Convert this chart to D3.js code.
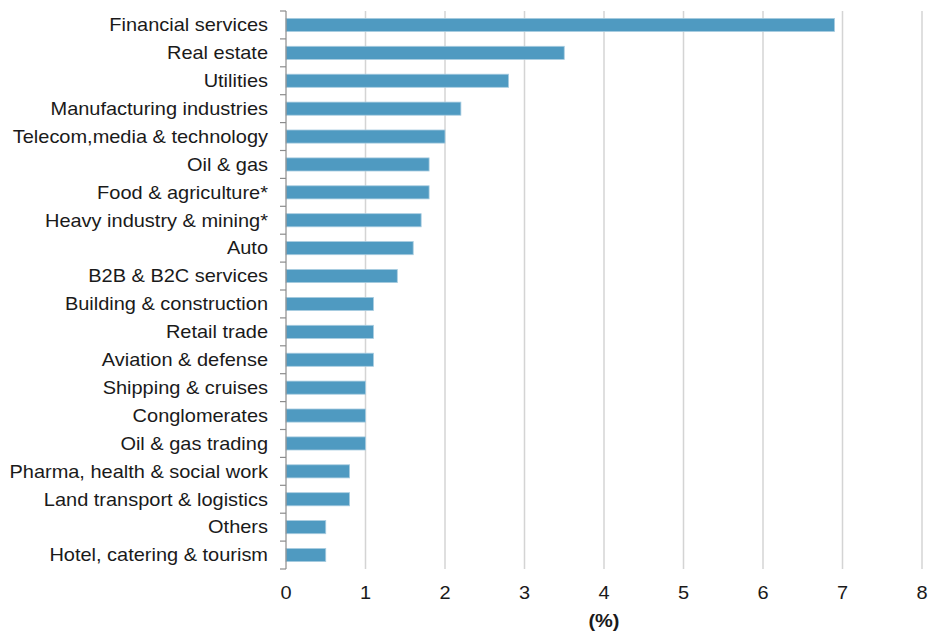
<!DOCTYPE html>
<html><head><meta charset="utf-8">
<script src="https://cdn.jsdelivr.net/npm/d3@7"></script>
<style>body{margin:0;background:#fff;font-family:"Liberation Sans",Arial,sans-serif;}</style>
</head><body><svg id="c" width="928" height="632"></svg>
<script>
const categories = ["Financial services","Real estate","Utilities","Manufacturing industries","Telecom,media & technology","Oil & gas","Food & agriculture*","Heavy industry & mining*","Auto","B2B & B2C services","Building & construction","Retail trade","Aviation & defense","Shipping & cruises","Conglomerates","Oil & gas trading","Pharma, health & social work","Land transport & logistics","Others","Hotel, catering & tourism"];
const values = [6.9,3.5,2.8,2.2,2.0,1.8,1.8,1.7,1.6,1.4,1.1,1.1,1.1,1.0,1.0,1.0,0.8,0.8,0.5,0.5];
const xTicks = [0,1,2,3,4,5,6,7,8];
const xLabel = "(%)";

const svg = d3.select("#c");
const m = {left:286, right:6, top:11, bottom:63};
const W = 928, H = 632;
const SX = 1.11;
const x = d3.scaleLinear().domain([0,8]).range([m.left, W-m.right]);
const y = d3.scaleBand().domain(categories).range([m.top, H-m.bottom]).paddingInner(0.53).paddingOuter(0.265);
const yb = d3.scaleBand().domain(categories).range([m.top, H-m.bottom]);

// gridlines
svg.append("g").selectAll("line").data(xTicks.filter(d=>d>0)).join("line")
  .attr("x1",d=>x(d)).attr("x2",d=>x(d)).attr("y1",m.top).attr("y2",H-m.bottom)
  .attr("stroke","#d4d4d4").attr("stroke-width",1.5);

// bars
svg.append("g").selectAll("rect").data(categories).join("rect")
  .attr("x",x(0)).attr("y",d=>y(d)).attr("height",y.bandwidth())
  .attr("width",(d,i)=>x(values[i])-x(0))
  .attr("fill","#4f9ac1").attr("stroke","#a9cde0").attr("stroke-width",0.8);

// y axis line and boundary ticks
const ax = svg.append("g");
ax.append("line").attr("x1",m.left).attr("x2",m.left).attr("y1",m.top).attr("y2",H-m.bottom)
  .attr("stroke","#8c8c8c").attr("stroke-width",1.2);
const bounds = categories.map(c=>yb(c)).concat([H-m.bottom]);
ax.selectAll("line.t").data(bounds).join("line").attr("class","t")
  .attr("x1",m.left-6).attr("x2",m.left).attr("y1",d=>d).attr("y2",d=>d)
  .attr("stroke","#8c8c8c").attr("stroke-width",1.2);

// category labels
svg.append("g").selectAll("text").data(categories).join("text")
  .attr("transform",d=>`translate(268,${yb(d)+yb.bandwidth()/2}) scale(${SX},1)`)
  .attr("dy","0.35em")
  .attr("text-anchor","end").attr("font-size",18).attr("fill","#1a1a1a").text(d=>d);

// x tick labels
svg.append("g").selectAll("text").data(xTicks).join("text")
  .attr("transform",d=>`translate(${x(d)},599) scale(${SX},1)`)
  .attr("text-anchor","middle")
  .attr("font-size",18).attr("fill","#1a1a1a").text(d=>d);

svg.append("text").attr("transform",`translate(${(x(0)+x(8))/2},627) scale(${SX},1)`).attr("text-anchor","middle")
  .attr("font-size",18).attr("font-weight","bold").attr("fill","#1a1a1a").text(xLabel);
</script></body></html>
